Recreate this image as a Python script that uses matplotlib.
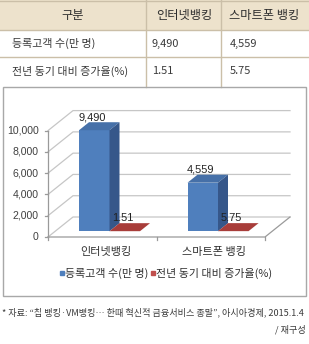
import matplotlib
matplotlib.use('Agg')
import matplotlib.pyplot as plt
from matplotlib.patches import Polygon, Rectangle
from matplotlib.lines import Line2D

# ---------------- data ----------------
header = ['구분', '인터넷뱅킹', '스마트폰 뱅킹']
row_labels = ['등록고객 수(만 명)', '전년 동기 대비 증가율(%)']
table_values = [['9,490', '4,559'], ['1.51', '5.75']]

categories = ['인터넷뱅킹', '스마트폰 뱅킹']
series_names = ['등록고객 수(만 명)', '전년 동기 대비 증가율(%)']
customers = [9490, 4559]
growth = [1.51, 5.75]
customer_labels = ['9,490', '4,559']
growth_labels = ['1.51', '5.75']
yticks = [0, 2000, 4000, 6000, 8000, 10000]
ytick_labels = ['0', '2,000', '4,000', '6,000', '8,000', '10,000']
footnote1 = '* 자료: “칩 뱅킹·VM뱅킹… 한때 혁신적 금융서비스 종말”, 아시아경제, 2015.1.4'
footnote2 = '/ 재구성'

# ---------------- style ----------------
KR = ['Noto Sans CJK KR', 'DejaVu Sans']
NUM = ['Liberation Sans', 'Noto Sans CJK KR']
TXT = '#3a3a3a'
W, H = 309, 344

fig = plt.figure(figsize=(W / 100, H / 100), dpi=100)
fig.patch.set_facecolor('white')

# overlay axes in pixel coordinates for the table, frame and footnote
ax0 = fig.add_axes([0, 0, 1, 1])
ax0.set_xlim(0, W)
ax0.set_ylim(H, 0)
ax0.axis('off')

# --- table ---
line_c = '#cbbfa8'
ax0.add_patch(Rectangle((0, 0), W, 29.5, facecolor='#ede2cc', edgecolor='none', zorder=0))
for yy in [0.5, 29.5, 57.0]:
    ax0.plot([0, W], [yy, yy], color=line_c, lw=1, zorder=1)
for xx in [145.5, 220.5]:
    ax0.plot([xx, xx], [0, 86.5], color=line_c, lw=1, zorder=1)

col_centers = [73, 184, 264.5]
for c, t in zip(col_centers, header):
    ax0.text(c, 15.5, t, ha='center', va='center', fontsize=8.8,
             family=KR, color='#2e2e2e')
row_y = [43.5, 71.5]
for r, lab in enumerate(row_labels):
    ax0.text(12, row_y[r], lab, ha='left', va='center', fontsize=7.9,
             family=KR, color=TXT)
    for j, xx in enumerate([152, 230]):
        ax0.text(xx, row_y[r], table_values[r][j], ha='left', va='center',
                 fontsize=7.9, family=KR, color=TXT)

# --- chart frame ---
ax0.add_patch(Rectangle((2.5, 86.5), 303.5, 209.5, facecolor='none',
                        edgecolor='#a8a8a8', lw=1, zorder=1))

# --- footnote ---
ax0.text(2, 312, footnote1, ha='left', va='center', fontsize=6.55,
         family=KR, color=TXT)
ax0.text(306, 330, footnote2, ha='right', va='center', fontsize=6.55,
         family=KR, color=TXT)

# ---------------- 3D-look bar chart ----------------
px_cat = 108.5        # pixels per category
x0px = 48.0           # pixel x of front-left corner
ppv = 0.01064         # pixels per value unit
y0px = 237.0          # pixel y of front floor edge

ax = fig.add_axes([0, 0, 1, 1], zorder=2)
ax.patch.set_alpha(0)
ax.set_xlim(-0.5 - x0px / px_cat, -0.5 + (W - x0px) / px_cat)
ax.set_ylim((y0px - H) / ppv, y0px / ppv)
ax.axis('off')

DX = 25 / px_cat      # wall depth in x data units
DY = 20 / ppv         # wall depth in y data units
t0, t1 = 0.29, 0.69   # bar depth position
bw = 30.5 / px_cat    # bar width
xmin, xmax = -0.5, len(categories) - 0.5

grid_c = '#c6c6c6'
axis_c = '#9a9a9a'

# side wall / back wall gridlines
for v in yticks:
    ax.plot([xmin, xmin + DX, xmax + DX], [v, v + DY, v + DY],
            color=grid_c, lw=0.9, zorder=1)
# floor
ax.plot([xmin, xmax, xmax + DX], [0, 0, DY], color=axis_c, lw=0.9, zorder=1)
# value axis
ax.plot([xmin, xmin], [0, yticks[-1]], color=axis_c, lw=0.9, zorder=1)
tick_len_x = 3 / px_cat
tick_len_y = 3 / ppv
for v, lab in zip(yticks, ytick_labels):
    ax.plot([xmin - tick_len_x, xmin], [v, v], color=axis_c, lw=0.9, zorder=1)
    ax.text(xmin - 9.5 / px_cat, v, lab, ha='right', va='center',
            fontsize=7.6, family=NUM, color='#404040')
for k in range(len(categories) + 1):
    xx = xmin + k
    ax.plot([xx, xx], [0, -tick_len_y], color=axis_c, lw=0.9, zorder=1)
for i, lab in enumerate(categories):
    ax.text(i + 0.5 * t0 * DX, -15 / ppv, lab, ha='center', va='center',
            fontsize=8.0, family=KR, color='#303030')

colors = {
    'blue': ('#4f7fbd', '#4670a8', '#36578a'),
    'red': ('#c0504d', '#a83d3a', '#8a2f2d'),
}


def draw_bar(xl, v, cols, z):
    front, top, side = cols
    xr = xl + bw
    yb = t0 * DY
    bx = (t1 - t0) * DX
    by = (t1 - t0) * DY
    ax.bar([xl + bw / 2], [v], width=bw, bottom=yb, color=front,
           edgecolor='none', zorder=z)
    yt = v + yb
    ax.add_patch(Polygon([(xl, yt), (xr, yt), (xr + bx, yt + by), (xl + bx, yt + by)],
                         closed=True, facecolor=top, edgecolor='none', zorder=z))
    ax.add_patch(Polygon([(xr, yb), (xr, yt), (xr + bx, yt + by), (xr + bx, yb + by)],
                         closed=True, facecolor=side, edgecolor='none', zorder=z))


lab_dx = -2 / px_cat
lab_dy = 13 / ppv
for i in range(len(categories)):
    xl_b = i - bw + t0 * DX
    draw_bar(xl_b, customers[i], colors['blue'], 3)
    xl_r = i + t0 * DX
    draw_bar(xl_r, growth[i], colors['red'], 4)
    ax.text(xl_b + bw / 2 + lab_dx, customers[i] + t0 * DY + lab_dy,
            customer_labels[i], ha='center', va='center', fontsize=7.9,
            family=NUM, color='#222222', zorder=6)
    ax.text(xl_r + bw / 2 + lab_dx, growth[i] + t0 * DY + lab_dy,
            growth_labels[i], ha='center', va='center', fontsize=7.9,
            family=NUM, color='#222222', zorder=6)

handles = [Line2D([], [], marker='s', ls='', markersize=2.6, color=colors['blue'][0]),
           Line2D([], [], marker='s', ls='', markersize=2.6, color=colors['red'][0])]
fig.legend(handles, series_names, loc='center', ncol=2,
           bbox_to_anchor=(166 / W, 1 - 273 / H), frameon=False,
           prop={'family': KR, 'size': 7.9}, handlelength=0.35,
           handletextpad=0.1, columnspacing=0.3, borderpad=0,
           labelcolor='#303030')

fig.savefig('out.png', dpi=100, facecolor='white')
